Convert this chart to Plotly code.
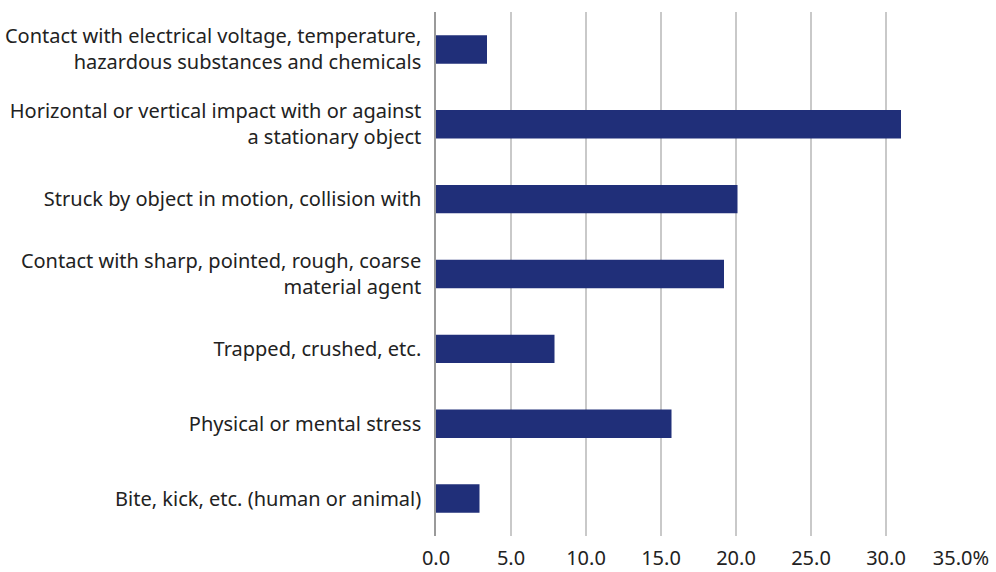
import plotly.graph_objects as go

categories = [
    "Contact with electrical voltage, temperature,<br>hazardous substances and chemicals",
    "Horizontal or vertical impact with or against<br>a stationary object",
    "Struck by object in motion, collision with",
    "Contact with sharp, pointed, rough, coarse<br>material agent",
    "Trapped, crushed, etc.",
    "Physical or mental stress",
    "Bite, kick, etc. (human or animal)",
]
values = [3.4, 31.0, 20.1, 19.2, 7.9, 15.7, 2.9]
tick_vals = [0, 5, 10, 15, 20, 25, 30, 35]
tick_text = ["0.0", "5.0", "10.0", "15.0", "20.0", "25.0", "30.0", "35.0%"]

fig = go.Figure(go.Bar(
    x=values, y=categories, orientation="h",
    marker=dict(color="#202F79", line=dict(width=0)),
    width=0.38,
))

fig.update_layout(
    width=996, height=572,
    margin=dict(l=436, r=35, t=12, b=36, pad=0),
    paper_bgcolor="white", plot_bgcolor="white",
    font=dict(family="Noto Sans", size=20, color="#222222"),
    showlegend=False,
    bargap=0.62,
)
fig.update_xaxes(
    range=[0, 35], tickvals=tick_vals, ticktext=tick_text,
    showgrid=True, gridcolor="#c9c9c9", gridwidth=1.5,
    zeroline=False, showline=False, automargin=False,
    tickfont=dict(size=20, color="#222222"),
    ticks="", ticklabelstandoff=8,
)
fig.update_yaxes(
    autorange="reversed", showgrid=False, zeroline=False,
    showline=True, linecolor="#9a9a9a", linewidth=1.5, automargin=False,
    ticks="", ticklabelstandoff=9,
    tickfont=dict(size=20, color="#222222"),
)

fig.write_html(
    "out.html",
    config={"displayModeBar": False},
    post_script="document.body.style.margin='0';document.body.style.overflow='hidden';",
)
